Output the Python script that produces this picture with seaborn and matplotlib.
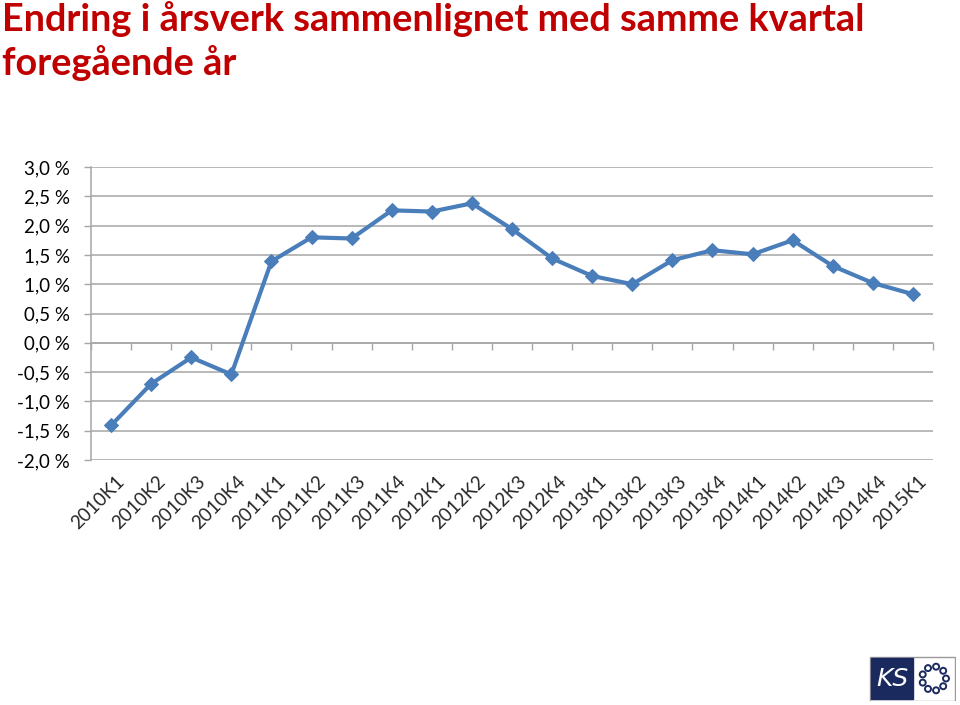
import matplotlib
matplotlib.use("Agg")
import matplotlib.pyplot as plt
import matplotlib.transforms as mtransforms
import seaborn as sns
import numpy as np
import pandas as pd
from matplotlib.patches import Rectangle, Circle

quarters = ["2010K1", "2010K2", "2010K3", "2010K4",
            "2011K1", "2011K2", "2011K3", "2011K4",
            "2012K1", "2012K2", "2012K3", "2012K4",
            "2013K1", "2013K2", "2013K3", "2013K4",
            "2014K1", "2014K2", "2014K3", "2014K4",
            "2015K1"]
change_pct = [-1.41, -0.70, -0.25, -0.54,
              1.39, 1.80, 1.78, 2.26,
              2.24, 2.38, 1.94, 1.44,
              1.14, 1.00, 1.41, 1.58,
              1.51, 1.75, 1.31, 1.02,
              0.83]
yticks = [-2.0, -1.5, -1.0, -0.5, 0.0, 0.5, 1.0, 1.5, 2.0, 2.5, 3.0]
ytick_labels = ["-2,0 %", "-1,5 %", "-1,0 %", "-0,5 %", "0,0 %", "0,5 %",
                "1,0 %", "1,5 %", "2,0 %", "2,5 %", "3,0 %"]
title_line1 = "Endring i årsverk sammenlignet med samme kvartal"
title_line2 = "foregående år"

sns.set_theme(style="white")
plt.rcParams["font.family"] = ["Lato", "DejaVu Sans"]

df = pd.DataFrame({"kvartal": quarters, "endring": change_pct})
df["pos"] = np.arange(len(df))

fig = plt.figure(figsize=(9.6, 7.05), dpi=100)
ax = fig.add_axes([91 / 960, 1 - 460 / 705, (933 - 91) / 960, (460 - 167) / 705])

line_color = "#4A7EBB"
sns.lineplot(data=df, x="pos", y="endring", ax=ax, color=line_color,
             linewidth=3.0, marker="D", markersize=7.5, markeredgecolor=line_color,
             sort=False, zorder=5)

ax.set_xlim(-0.5, len(quarters) - 0.5)
ax.set_ylim(-2.0, 3.0)
ax.set_yticks(yticks)
ax.set_yticklabels(ytick_labels, fontsize=13.5, color="#000000")
ax.tick_params(axis="y", length=5, width=1, color="#A6A6A6", pad=10, direction="out", left=True)
ax.yaxis.grid(True, color="#A6A6A6", linewidth=1.1)
ax.set_axisbelow(True)
ax.set_xlabel("")
ax.set_ylabel("")

for s in ["top", "right"]:
    ax.spines[s].set_visible(False)
ax.spines["left"].set_color("#A6A6A6")
ax.spines["left"].set_linewidth(1.1)
ax.spines["bottom"].set_position(("data", 0))
ax.spines["bottom"].set_color("#A6A6A6")
ax.spines["bottom"].set_linewidth(1.1)
ax.set_xticks([])
ax.set_xticks(np.arange(-0.5, len(quarters), 1.0), minor=True)
ax.tick_params(axis="x", which="minor", length=5, width=1, color="#A6A6A6",
               direction="out", bottom=True, labelbottom=False)

sec = ax.secondary_xaxis(0.0)
sec.set_xticks(np.arange(len(quarters)))
sec.set_xticklabels(quarters, rotation=45, ha="right", rotation_mode="anchor", fontsize=13.5)
sec.tick_params(axis="x", length=0, pad=9)
sec.spines["bottom"].set_visible(False)
offset = mtransforms.ScaledTranslation(5 / 100, 0, fig.dpi_scale_trans)
for lbl in sec.get_xticklabels():
    lbl.set_transform(lbl.get_transform() + offset)

fig.text(2 / 960, 1 - 1 / 705, title_line1, fontsize=27.3, fontweight="bold",
         color="#C00000", ha="left", va="top")
fig.text(2 / 960, 1 - 45 / 705, title_line2, fontsize=27.3, fontweight="bold",
         color="#C00000", ha="left", va="top")

# KS logo
lax = fig.add_axes([869 / 960, 1 - 701 / 705, 87 / 960, 45 / 705])
lax.set_xlim(0, 87)
lax.set_ylim(0, 45)
lax.axis("off")
lax.add_patch(Rectangle((0.5, 0.5), 86, 44, facecolor="white", edgecolor="#9A9A9A", linewidth=1))
lax.add_patch(Rectangle((2, 2), 42, 41, facecolor="#1B2A5E", edgecolor="#1B2A5E"))
lax.text(23, 22, "KS", color="white", fontsize=18, style="italic", ha="center",
         va="center", family=["DejaVu Sans"])
for a in np.linspace(0, 2 * np.pi, 9, endpoint=False):
    lax.add_patch(Circle((65 + 12 * np.cos(a), 22.5 + 12 * np.sin(a)), 3.0,
                         facecolor="white", edgecolor="#1B2A5E", linewidth=1.4))

fig.savefig("out.png", dpi=100)
